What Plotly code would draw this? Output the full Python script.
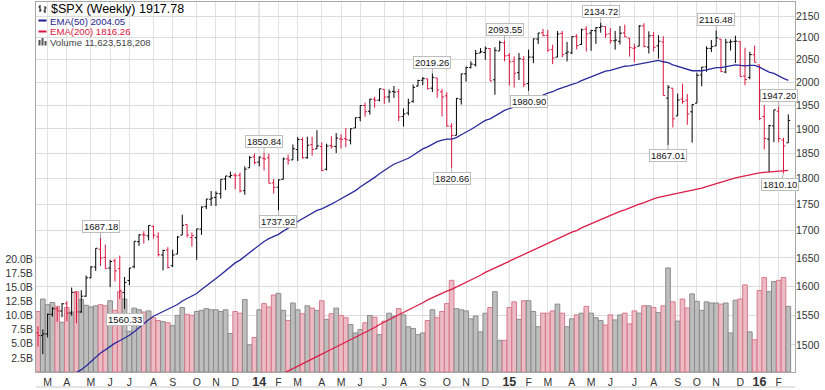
import math
import pandas as pd
import plotly.graph_objects as go

# ---------------- data ----------------
start_week = "2013-02-18"
n_weeks = 157
dates = pd.date_range(start_week, periods=n_weeks, freq="W-MON")
prior_close = 1519.79

opens = [1519.79,1515.60,1518.20,1551.18,1560.70,1556.89,1569.18,1553.26,1588.84,1555.25,
1582.34,1614.40,1633.70,1665.71,1650.94,1631.71,1644.67,1630.64,1588.77,1609.78,
1634.20,1679.59,1692.09,1690.32,1708.01,1688.37,1655.25,1664.29,1635.95,1656.85,
1691.70,1711.44,1687.26,1687.15,1702.68,1745.20,1759.42,1762.97,1769.96,1798.82,
1803.48,1806.55,1806.21,1776.01,1820.92,1842.97,1832.31,1840.06,1841.05,1791.03,
1782.68,1798.03,1838.76,1836.78,1857.68,1878.26,1841.07,1867.67,1859.16,1863.92,
1818.18,1865.79,1863.82,1879.45,1880.03,1876.66,1902.01,1923.87,1949.37,1937.15,
1962.92,1960.79,1984.22,1967.68,1979.75,1978.96,1926.27,1933.43,1958.36,1991.39,
2004.07,2007.17,1986.77,2009.08,1978.96,1970.01,1905.65,1886.76,1962.97,2018.21,
2032.01,2038.29,2064.69,2065.78,2074.84,2005.03,2069.28,2087.63,2058.90,2046.13,
2020.76,2050.42,1996.67,2055.47,2096.47,2110.88,2105.23,2072.25,2055.35,2109.33,
2064.11,2064.87,2102.94,2084.11,2119.29,2110.23,2115.56,2123.16,2125.34,2108.64,
2092.34,2091.34,2110.64,2098.63,2075.30,2080.03,2126.80,2078.19,2104.49,2080.98,
2089.70,1965.15,1986.73,1927.30,1963.06,1960.84,1935.93,1954.33,2015.65,2033.47,
2075.08,2080.76,2096.56,2022.08,2089.41,2090.95,2090.42,2013.37,2010.27,2060.59,
2038.20,1926.12,1878.93,1906.28,1936.94,1877.08,1871.44]

highs = [1530.94,1525.84,1552.48,1563.62,1564.13,1570.28,1573.66,1597.35,1588.84,1592.64,
1618.46,1635.01,1667.47,1687.18,1674.21,1646.53,1648.69,1654.19,1615.94,1631.72,
1680.19,1693.12,1698.78,1709.67,1709.24,1696.81,1664.85,1669.51,1664.83,1689.97,
1729.86,1711.44,1696.55,1703.44,1745.31,1759.82,1775.22,1774.54,1798.22,1804.84,
1813.55,1810.02,1811.52,1823.75,1844.89,1849.44,1843.23,1850.84,1849.31,1798.77,
1798.03,1841.65,1847.50,1867.92,1883.57,1882.35,1883.97,1884.06,1897.28,1872.53,
1869.63,1884.89,1891.33,1889.07,1902.17,1901.26,1924.03,1949.44,1955.55,1963.91,
1968.17,1985.59,1984.22,1983.94,1991.39,1984.85,1942.92,1964.04,1994.76,2005.04,
2011.17,2007.17,2019.26,2009.08,1985.17,1977.84,1912.09,1965.27,2018.19,2034.26,
2046.18,2071.46,2075.76,2079.47,2075.78,2077.85,2092.70,2093.55,2064.43,2056.93,
2064.62,2057.62,2072.40,2096.99,2110.61,2119.59,2117.52,2083.49,2114.86,2114.86,
2089.81,2102.61,2107.65,2120.49,2125.92,2117.66,2123.89,2134.72,2126.22,2121.92,
2115.02,2126.65,2129.87,2098.63,2085.70,2128.81,2132.82,2114.24,2112.66,2105.35,
2102.87,1993.48,1986.73,1975.01,1996.49,1974.01,1951.83,2020.86,2033.54,2079.74,
2094.32,2116.48,2096.56,2097.06,2095.61,2104.27,2090.42,2076.72,2067.65,2081.56,
2038.20,1950.33,1908.85,1940.24,1947.20,1881.60,1930.68]

lows = [1497.29,1485.01,1512.29,1547.36,1538.57,1546.22,1539.50,1548.73,1536.03,1553.56,
1581.28,1614.01,1626.74,1635.53,1630.74,1598.23,1608.07,1577.70,1560.33,1601.42,
1631.39,1671.84,1676.03,1681.86,1684.91,1652.61,1627.47,1630.88,1633.41,1656.85,
1691.70,1687.11,1670.36,1646.47,1692.13,1740.50,1746.50,1746.20,1760.64,1777.23,
1800.58,1779.09,1772.28,1767.99,1820.92,1827.74,1823.73,1815.52,1790.29,1770.45,
1737.92,1798.03,1826.99,1836.78,1834.44,1839.49,1839.07,1845.29,1859.16,1814.36,
1815.80,1859.70,1850.61,1859.79,1862.36,1868.14,1902.01,1915.98,1925.78,1930.02,
1944.69,1958.22,1952.86,1955.59,1965.77,1916.37,1904.78,1928.29,1955.23,1990.52,
1993.29,1984.04,1978.48,1965.99,1926.03,1905.03,1820.66,1886.76,1951.37,2001.01,
2030.17,2034.46,2064.69,2049.57,2002.33,1972.56,2069.28,2046.04,1992.44,1988.12,
2004.49,1989.18,1980.90,2041.88,2085.44,2103.00,2067.27,2039.69,2055.35,2055.09,
2045.79,2062.49,2072.88,2083.22,2067.93,2069.69,2085.51,2111.00,2099.18,2085.67,
2072.14,2084.02,2101.12,2056.64,2044.02,2080.03,2077.81,2063.52,2067.91,2052.09,
1970.89,1867.01,1903.07,1927.30,1953.03,1908.77,1871.91,1954.33,1990.73,2022.69,
2066.69,2080.76,2022.04,2019.39,2070.29,2042.35,2011.86,1993.26,2005.93,2043.62,
1918.46,1857.83,1812.29,1872.65,1872.65,1810.10,1871.44]

closes = [1515.60,1518.20,1551.18,1560.70,1556.89,1569.19,1553.28,1588.85,1555.25,1582.24,
1614.42,1633.70,1667.47,1649.60,1630.74,1643.38,1626.73,1592.43,1606.28,1631.89,
1680.19,1692.09,1691.65,1709.67,1691.42,1655.83,1663.50,1632.97,1655.17,1687.99,
1709.91,1691.75,1690.50,1703.20,1744.50,1759.77,1761.64,1770.61,1798.18,1804.76,
1805.81,1805.09,1775.32,1818.32,1841.40,1831.37,1842.37,1838.70,1790.29,1782.59,
1797.02,1838.63,1836.25,1859.45,1878.04,1841.13,1866.52,1857.62,1865.09,1815.69,
1864.85,1863.40,1881.14,1878.48,1877.86,1900.53,1923.57,1949.44,1936.16,1962.87,
1960.96,1985.44,1967.57,1978.22,1978.34,1925.15,1931.59,1955.06,1988.40,2003.37,
2007.71,1985.54,2010.40,1982.85,1967.90,1906.13,1886.76,1964.58,2018.05,2031.92,
2039.82,2063.50,2067.56,2075.37,2002.33,2070.65,2088.77,2058.20,2044.81,2019.42,
2051.82,1994.99,2055.47,2096.99,2110.30,2104.50,2071.26,2053.40,2108.10,2061.02,
2066.96,2102.06,2081.18,2117.69,2108.29,2116.10,2122.73,2126.06,2107.39,2092.83,
2094.11,2109.99,2101.49,2076.78,2076.62,2126.64,2079.65,2103.84,2077.57,2091.54,
1970.89,1988.87,1921.22,1961.05,1958.03,1931.34,1951.36,2014.89,2033.11,2075.15,
2079.36,2099.20,2023.04,2089.17,2090.11,2091.69,2012.37,2005.55,2060.99,2043.94,
1922.03,1880.33,1906.90,1940.24,1880.05,1864.78,1917.78]

volumes_b = [10.7,12.9,11.9,12.3,11.6,8.8,11.4,10.6,14.2,12.8,
11.8,11.5,11.7,11.9,11.7,12.6,10.9,14.2,12.9,7.2,
11.3,11.0,10.6,10.8,9.6,9.1,8.9,8.7,8.2,10.0,
11.4,10.2,10.0,10.7,10.9,11.2,11.0,11.0,10.7,11.0,
6.8,10.7,10.4,12.8,4.8,6.1,11.0,12.1,11.5,13.6,
13.9,10.9,9.1,12.2,11.0,10.3,11.7,11.3,10.9,12.6,
9.3,10.3,11.3,10.0,9.6,8.4,6.9,7.5,8.7,10.0,
9.7,6.6,9.0,10.4,9.9,11.2,10.1,8.0,7.7,6.6,
6.9,9.1,11.0,9.6,10.7,12.1,16.2,11.2,11.0,10.8,
9.4,9.9,7.1,10.4,11.4,14.2,5.6,5.6,11.4,12.4,
9.3,12.6,12.6,10.7,8.0,10.4,10.4,10.8,12.0,10.4,
8.0,9.4,10.1,10.4,11.6,10.4,9.6,9.1,8.3,10.1,
9.2,10.1,10.4,8.5,10.8,10.4,11.7,11.7,11.4,10.5,
11.7,18.4,12.4,9.0,12.9,11.3,13.8,12.5,10.9,12.4,
12.2,12.2,12.0,12.2,6.9,12.7,12.9,15.4,7.1,5.7,
14.4,16.7,14.2,16.0,16.2,16.7,11.6]

ema50 = [1416,1420,1425,1431,1435,1441,1445,1451,1455,1460,1466,1473,1480,1487,1492,1498,1503,1507,1511,1516,
1522,1529,1535,1542,1548,1552,1556,1559,1563,1568,1574,1578,1583,1587,1594,1600,1606,1613,1620,1627,
1634,1641,1646,1653,1660,1667,1674,1680,1685,1689,1693,1699,1704,1710,1717,1722,1727,1732,1738,1741,
1745,1750,1755,1760,1765,1770,1776,1783,1789,1796,1802,1809,1816,1822,1828,1832,1836,1840,1846,1852,
1859,1863,1869,1874,1877,1879,1879,1882,1888,1893,1899,1905,1912,1918,1921,1927,1934,1939,1943,1946,
1950,1952,1956,1961,1967,1972,1976,1979,1984,1987,1991,1995,1998,2003,2007,2011,2016,2020,2024,2026,
2029,2032,2035,2036,2038,2041,2043,2045,2047,2048,2045,2043,2038,2035,2032,2028,2025,2025,2025,2027,
2029,2032,2032,2034,2036,2038,2037,2036,2037,2037,2033,2027,2022,2019,2013,2008,2004]

ema200 = [1288,1290,1293,1295,1298,1301,1303,1306,1308,1311,1314,1317,1321,1324,1327,1330,1333,1336,1339,1341,
1345,1348,1352,1355,1359,1362,1365,1367,1370,1373,1377,1380,1383,1386,1390,1393,1397,1401,1405,1409,
1413,1416,1420,1424,1428,1432,1436,1440,1444,1447,1451,1454,1458,1462,1466,1470,1474,1478,1482,1485,
1489,1493,1496,1500,1504,1508,1512,1516,1521,1525,1529,1534,1538,1543,1547,1551,1554,1558,1563,1567,
1571,1576,1580,1584,1588,1591,1594,1598,1602,1606,1610,1615,1619,1624,1628,1632,1637,1641,1645,1649,
1653,1656,1660,1664,1669,1673,1677,1681,1685,1689,1693,1697,1700,1705,1709,1713,1717,1721,1725,1728,
1732,1736,1739,1743,1746,1750,1753,1757,1760,1763,1765,1767,1769,1771,1773,1774,1776,1778,1781,1784,
1787,1790,1792,1795,1798,1801,1803,1805,1808,1810,1811,1812,1813,1814,1815,1815,1816]

hi_labels = [(13, "1687.18"), (47, "1850.84"), (82, "2019.26"), (97, "2093.55"),
             (117, "2134.72"), (141, "2116.48"), (154, "1947.20")]
lo_labels = [(18, "1560.33"), (50, "1737.92"), (86, "1820.66"), (102, "1980.90"),
             (131, "1867.01"), (155, "1810.10")]

price_ticks = [1500, 1550, 1600, 1650, 1700, 1750, 1800, 1850, 1900, 1950, 2000, 2050, 2100, 2150]
vol_ticks = [2.5, 5.0, 7.5, 10.0, 12.5, 15.0, 17.5, 20.0]
month_letters = ["J", "F", "M", "A", "M", "J", "J", "A", "S", "O", "N", "D"]

# ---------------- styling ----------------
W, H = 825, 390
L, R, T, B = 36, 30, 2, 18
RED = "#dc143c"
BLACK = "#000000"
FONT = "Liberation Sans, Arial, sans-serif"

prev = [prior_close] + closes[:-1]
up = [c >= p for c, p in zip(closes, prev)]

fig = go.Figure()

fig.add_trace(go.Bar(
    x=dates, y=volumes_b, yaxis="y",
    width=[7 * 86400000 * 0.97] * n_weeks,
    marker=dict(color=["#bebebe" if u else "#ebbcc3" for u in up],
                line=dict(color=["#8c8c8c" if u else "#d8798d" for u in up], width=1)),
    hoverinfo="skip", showlegend=False))

fig.add_trace(go.Scatter(x=dates, y=ema200, yaxis="y2", mode="lines",
                         line=dict(color="#dc1e46", width=1.3), hoverinfo="skip", showlegend=False))
fig.add_trace(go.Scatter(x=dates, y=ema50, yaxis="y2", mode="lines",
                         line=dict(color="#2a2a9c", width=1.3), hoverinfo="skip", showlegend=False))

for flag, col in [(True, BLACK), (False, RED)]:
    idx = [i for i in range(n_weeks) if up[i] == flag]
    fig.add_trace(go.Ohlc(
        x=[dates[i] for i in idx], open=[opens[i] for i in idx], high=[highs[i] for i in idx],
        low=[lows[i] for i in idx], close=[closes[i] for i in idx], yaxis="y2",
        increasing=dict(line=dict(color=col, width=1)),
        decreasing=dict(line=dict(color=col, width=1)),
        tickwidth=0.4, hoverinfo="skip", showlegend=False))

# month ticks
tickvals, ticktext, year_vals = [], [], []
for i in range(1, n_weeks):
    if dates[i].month != dates[i - 1].month:
        tickvals.append(dates[i])
        if dates[i].month == 1:
            ticktext.append("<b><span style='font-size:12.5px'>%02d</span></b>" % (dates[i].year % 100))
            year_vals.append(dates[i])
        else:
            ticktext.append(month_letters[dates[i].month - 1])

day = pd.Timedelta(days=1)
x0 = dates[0] - 2.9 * day
x1 = dates[-1] + 9.75 * day

ylo, yhi = 1456.3, 2183.2

def px(xpix):
    return (xpix - L) / (W - L - R)

def py(ypix):
    return 1 - (ypix - T) / (H - T - B)

shapes = []
for yv in year_vals:
    shapes.append(dict(type="line", xref="x", yref="paper", x0=yv, x1=yv, y0=0, y1=1,
                       line=dict(color="#b4b4b4", width=1), layer="below"))
shapes.append(dict(type="line", xref="paper", yref="paper", x0=0, x1=1, y0=py(387), y1=py(387),
                   line=dict(color="#c8c8c8", width=1)))
# legend icons
shapes += [
    dict(type="line", xref="paper", yref="paper", x0=px(40), x1=px(40), y0=py(5), y1=py(12), line=dict(color="#000", width=1)),
    dict(type="line", xref="paper", yref="paper", x0=px(38.5), x1=px(40), y0=py(7), y1=py(7), line=dict(color="#000", width=1)),
    dict(type="line", xref="paper", yref="paper", x0=px(40), x1=px(41.5), y0=py(10), y1=py(10), line=dict(color="#000", width=1)),
    dict(type="line", xref="paper", yref="paper", x0=px(45), x1=px(45), y0=py(6), y1=py(13), line=dict(color="#000", width=1)),
    dict(type="line", xref="paper", yref="paper", x0=px(43.5), x1=px(45), y0=py(11), y1=py(11), line=dict(color="#000", width=1)),
    dict(type="line", xref="paper", yref="paper", x0=px(45), x1=px(46.5), y0=py(8), y1=py(8), line=dict(color="#000", width=1)),
    dict(type="line", xref="paper", yref="paper", x0=px(38.5), x1=px(46.5), y0=py(20.5), y1=py(20.5), line=dict(color="#1c1c8c", width=2)),
    dict(type="line", xref="paper", yref="paper", x0=px(38.5), x1=px(46.5), y0=py(31.5), y1=py(31.5), line=dict(color="#dc143c", width=2)),
    dict(type="rect", xref="paper", yref="paper", x0=px(38.5), x1=px(40.5), y0=py(45.5), y1=py(40), line=dict(width=0), fillcolor="#555"),
    dict(type="rect", xref="paper", yref="paper", x0=px(41.5), x1=px(43.5), y0=py(45.5), y1=py(38), line=dict(width=0), fillcolor="#555"),
    dict(type="rect", xref="paper", yref="paper", x0=px(44.5), x1=px(46.5), y0=py(45.5), y1=py(41), line=dict(width=0), fillcolor="#555"),
]

annotations = [
    dict(xref="paper", yref="paper", x=px(49), y=py(9), xanchor="left", yanchor="middle", showarrow=False,
         text="$SPX (Weekly) 1917.78", font=dict(family=FONT, size=12.5, color="#000")),
    dict(xref="paper", yref="paper", x=px(47.5), y=py(21), xanchor="left", yanchor="middle", showarrow=False,
         text="EMA(50) 2004.05", font=dict(family=FONT, size=9.6, color="#1c1c8c")),
    dict(xref="paper", yref="paper", x=px(47.5), y=py(31.7), xanchor="left", yanchor="middle", showarrow=False,
         text="EMA(200) 1816.26", font=dict(family=FONT, size=9.6, color="#dc143c")),
    dict(xref="paper", yref="paper", x=px(47.5), y=py(42), xanchor="left", yanchor="middle", showarrow=False,
         text="Volume 11,623,518,208", font=dict(family=FONT, size=9.6, color="#444")),
]
for i, t in hi_labels:
    annotations.append(dict(x=dates[i], y=math.log10(highs[i]), xref="x", yref="y2", text=t,
                            showarrow=True, ax=0, ay=-11, arrowhead=0, arrowwidth=1, arrowcolor="#b0b0b0",
                            bgcolor="#ffffff", bordercolor="#bdbdbd", borderwidth=1, borderpad=1, height=9,
                            font=dict(family=FONT, size=9.5, color="#111")))
for i, t in lo_labels:
    annotations.append(dict(x=dates[i], y=math.log10(lows[i]), xref="x", yref="y2", text=t,
                            showarrow=True, ax=(-3 if i == 155 else 0), ay=11, arrowhead=0, arrowwidth=1, arrowcolor="#b0b0b0",
                            bgcolor="#ffffff", bordercolor="#bdbdbd", borderwidth=1, borderpad=1, height=9,
                            font=dict(family=FONT, size=9.5, color="#111")))

fig.update_layout(
    width=W, height=H, margin=dict(l=L, r=R, t=T, b=B, pad=0, autoexpand=False),
    paper_bgcolor="#ffffff", plot_bgcolor="#ffffff",
    font=dict(family=FONT, size=10.5, color="#333"),
    bargap=0, showlegend=False, hovermode=False,
    xaxis=dict(type="date", range=[x0, x1], tickmode="array", tickvals=tickvals, ticktext=ticktext,
               showgrid=True, gridcolor="#e2e2e2", gridwidth=1, ticks="", showline=True, linecolor="#a8a8a8",
               mirror=True, zeroline=False, rangeslider=dict(visible=False), automargin=False,
               tickfont=dict(family=FONT, size=10.5, color="#333")),
    yaxis=dict(range=[0, 370 / 5.657], tickmode="array", tickvals=vol_ticks,
               ticktext=["%.1fB" % v for v in vol_ticks], showgrid=False, zeroline=False,
               showline=True, linecolor="#a8a8a8", mirror=True, ticks="", side="left", automargin=False,
               tickfont=dict(family=FONT, size=10.5, color="#333")),
    yaxis2=dict(type="log", range=[math.log10(ylo), math.log10(yhi)], overlaying="y", side="right",
                tickmode="array", tickvals=price_ticks, ticktext=[str(v) for v in price_ticks],
                showgrid=True, gridcolor="#dcdcdc", gridwidth=1, zeroline=False, ticks="",
                showline=False, automargin=False, tickfont=dict(family=FONT, size=10.5, color="#333")),
    shapes=shapes, annotations=annotations,
)

fig.write_html("out.html", config={"displayModeBar": False, "staticPlot": True},
               post_script="document.body.style.margin='0px';document.body.style.padding='0px';")
